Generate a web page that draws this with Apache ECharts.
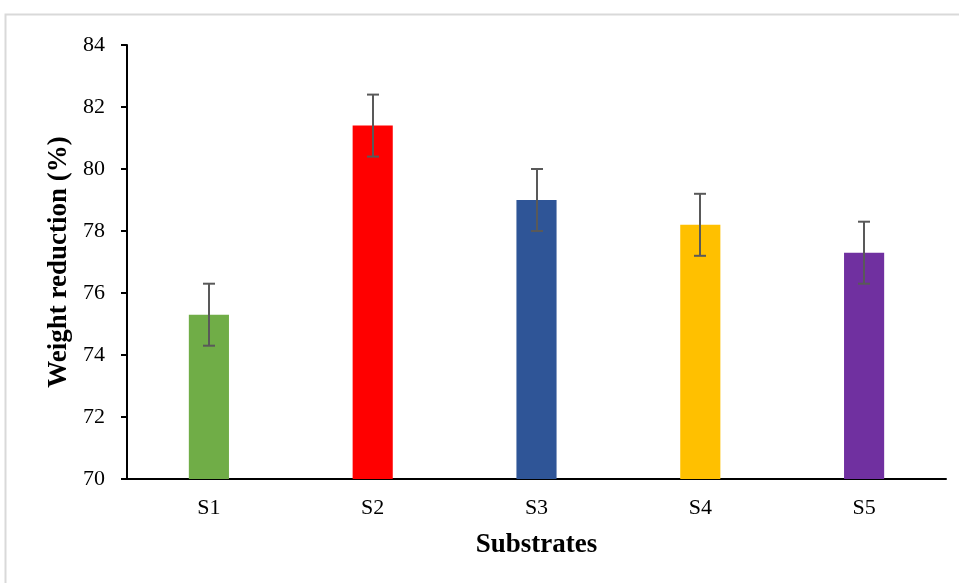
<!DOCTYPE html>
<html><head><meta charset="utf-8">
<script src="https://cdn.jsdelivr.net/npm/echarts@6/dist/echarts.min.js"></script>
<style>html,body{margin:0;padding:0;background:#fff}#c{width:959px;height:583px}</style>
</head><body><div id="c"></div>
<script>
const categories = ['S1','S2','S3','S4','S5'];
const values = [75.3, 81.4, 79.0, 78.2, 77.3];
const errors = [1.0, 1.0, 1.0, 1.0, 1.0];
const colors = ['#70AD47','#FF0000','#2F5597','#FFC000','#7030A0'];
const yTicks = [70,72,74,76,78,80,82,84];

const chart = echarts.init(document.getElementById('c'));
const font = '"Liberation Serif","Times New Roman",serif';
chart.setOption({
  animation:false,
  graphic:[{type:'rect',shape:{x:5.5,y:14.5,width:1000,height:700},style:{fill:'none',stroke:'#d9d9d9',lineWidth:2},silent:true}],
  grid:{left:127,right:13,top:45,bottom:104,containLabel:false},
  xAxis:{type:'category',data:categories,
    axisLine:{lineStyle:{color:'#000',width:2}},
    axisTick:{show:false},
    axisLabel:{fontFamily:font,fontSize:22,color:'#000',margin:18},
    name:'Substrates',nameLocation:'middle',nameGap:53,
    nameTextStyle:{fontFamily:font,fontSize:27,fontWeight:'bold',color:'#000'}},
  yAxis:{type:'value',min:yTicks[0],max:yTicks[yTicks.length-1],interval:2,
    axisLine:{show:true,lineStyle:{color:'#000',width:2}},
    axisTick:{show:true,length:6,lineStyle:{color:'#000',width:2}},
    splitLine:{show:false},
    axisLabel:{fontFamily:font,fontSize:22,color:'#000',margin:22},
    name:'Weight reduction (%)',nameLocation:'middle',nameGap:53,
    nameTextStyle:{fontFamily:font,fontSize:27,fontWeight:'bold',color:'#000'}},
  series:[
    {type:'bar',barWidth:'24.5%',
     data:values.map((v,i)=>({value:v,itemStyle:{color:colors[i]}}))},
    {type:'custom',
     data:values.map((v,i)=>[i,v-errors[i],v+errors[i]]),
     renderItem:function(params,api){
       const lo=api.coord([api.value(0),api.value(1)]);
       const hi=api.coord([api.value(0),api.value(2)]);
       const x=Math.round(lo[0]), hw=6;
       const st={stroke:'#595959',lineWidth:2};
       return {type:'group',children:[
         {type:'line',shape:{x1:x,y1:hi[1],x2:x,y2:lo[1]},style:st},
         {type:'line',shape:{x1:x-hw,y1:hi[1],x2:x+hw,y2:hi[1]},style:st},
         {type:'line',shape:{x1:x-hw,y1:lo[1],x2:x+hw,y2:lo[1]},style:st}
       ]};
     },z:10}
  ]
});
</script></body></html>
